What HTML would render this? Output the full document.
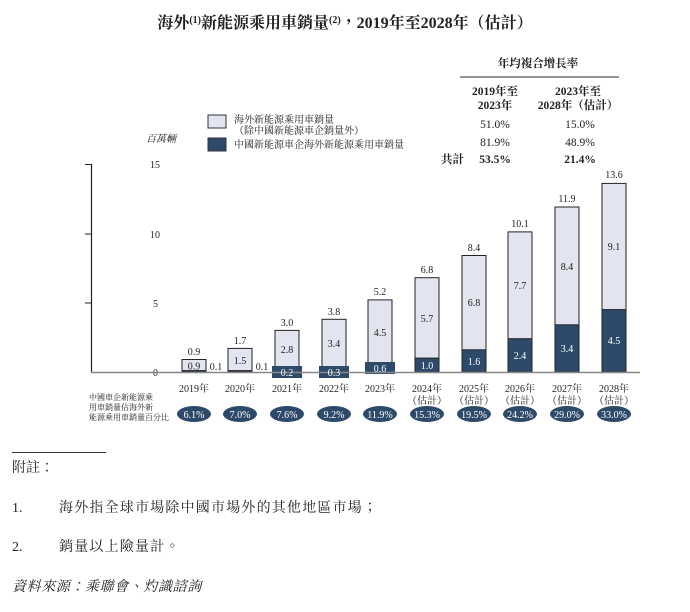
<!DOCTYPE html>
<html><head><meta charset="utf-8"><style>
body{margin:0;background:#fff;}
svg text{font-family:"Liberation Serif","Noto Serif CJK TC","Noto Serif CJK SC",serif;fill:#222;}
svg text.w{fill:#fff;}
</style></head><body>
<svg width="690" height="607" viewBox="0 0 690 607" xmlns="http://www.w3.org/2000/svg">
<text x="345" y="28" text-anchor="middle" font-size="16" font-weight="bold">海外<tspan font-size="10" dy="-5">(1)</tspan><tspan dy="5">新能源乘用車銷量</tspan><tspan font-size="10" dy="-5">(2)</tspan><tspan dy="5">，2019年至2028年（估計）</tspan></text>
<text x="538" y="67" text-anchor="middle" font-size="11.5" font-weight="bold">年均複合增長率</text>
<line x1="460" y1="77" x2="619" y2="77" stroke="#555" stroke-width="1.2"/>
<text x="495" y="95" text-anchor="middle" font-size="11.5" font-weight="bold">2019年至</text>
<text x="495" y="109" text-anchor="middle" font-size="11.5" font-weight="bold">2023年</text>
<text x="578" y="95" text-anchor="middle" font-size="11.5" font-weight="bold">2023年至</text>
<text x="578" y="109" text-anchor="middle" font-size="11.5" font-weight="bold">2028年（估計）</text>
<text x="495" y="128" text-anchor="middle" font-size="11.5">51.0%</text>
<text x="580" y="128" text-anchor="middle" font-size="11.5">15.0%</text>
<text x="495" y="146" text-anchor="middle" font-size="11.5">81.9%</text>
<text x="580" y="146" text-anchor="middle" font-size="11.5">48.9%</text>
<text x="441" y="163" font-size="11.5" font-weight="bold">共計</text>
<text x="495" y="163" text-anchor="middle" font-size="11.5" font-weight="bold">53.5%</text>
<text x="580" y="163" text-anchor="middle" font-size="11.5" font-weight="bold">21.4%</text>
<rect x="208" y="115" width="18" height="13" fill="#e2e5ef" stroke="#333" stroke-width="1"/>
<rect x="208" y="138" width="18" height="13" fill="#2e4a6b" stroke="#333" stroke-width="1"/>
<text x="234" y="123" font-size="10">海外新能源乘用車銷量</text>
<text x="234" y="134" font-size="10">（除中國新能源車企銷量外）</text>
<text x="234" y="148" font-size="10">中國新能源車企海外新能源乘用車銷量</text>
<text x="146" y="142" font-size="10" font-style="italic">百萬輛</text>
<g font-size="10">
<text x="150" y="168">15</text><text x="150" y="238">10</text><text x="153" y="307">5</text><text x="153" y="376">0</text>
</g>
<line x1="91.5" y1="164" x2="91.5" y2="372" stroke="#222" stroke-width="1.2"/>
<line x1="85" y1="164.5" x2="91.5" y2="164.5" stroke="#222"/>
<line x1="85" y1="234" x2="91.5" y2="234" stroke="#222"/>
<line x1="85" y1="303" x2="91.5" y2="303" stroke="#222"/>
<g stroke="#222" stroke-width="1">
<rect x="182" y="359.5" width="24" height="12.5" fill="#e2e5ef"/>
<rect x="228" y="348.4" width="24" height="23.6" fill="#e2e5ef"/>
<rect x="275" y="330.4" width="24" height="41.6" fill="#e2e5ef"/>
<rect x="322" y="319.3" width="24" height="52.7" fill="#e2e5ef"/>
<rect x="368" y="299.9" width="24" height="72.1" fill="#e2e5ef"/>
<rect x="415" y="277.7" width="24" height="94.3" fill="#e2e5ef"/>
<rect x="462" y="255.5" width="24" height="116.5" fill="#e2e5ef"/>
<rect x="508" y="231.9" width="24" height="140.1" fill="#e2e5ef"/>
<rect x="555" y="207" width="24" height="165" fill="#e2e5ef"/>
<rect x="602" y="183.4" width="24" height="188.6" fill="#e2e5ef"/>
</g>
<g fill="#2e4a6b" stroke="#222" stroke-width="1">
<rect x="182" y="370.6" width="24" height="1.4"/>
<rect x="228" y="370.6" width="24" height="1.4"/>
<rect x="275" y="369.2" width="24" height="2.8"/>
<rect x="322" y="367.8" width="24" height="4.2"/>
<rect x="368" y="363.7" width="24" height="8.3"/>
<rect x="415" y="358.1" width="24" height="13.9"/>
<rect x="462" y="349.8" width="24" height="22.2"/>
<rect x="508" y="338.7" width="24" height="33.3"/>
<rect x="555" y="324.8" width="24" height="47.2"/>
<rect x="602" y="309.6" width="24" height="62.4"/>
</g>
<rect x="272" y="366" width="30" height="12" fill="#2e4a6b"/>
<rect x="319" y="366" width="30" height="12" fill="#2e4a6b"/>
<rect x="365" y="362" width="30" height="12" fill="#2e4a6b"/>
<line x1="91" y1="372.5" x2="640" y2="372.5" stroke="#888" stroke-width="1.5"/>
<g font-size="10" text-anchor="middle">
<text x="194" y="355">0.9</text><text x="240" y="344">1.7</text><text x="287" y="326">3.0</text><text x="334" y="315">3.8</text><text x="380" y="295">5.2</text><text x="427" y="273">6.8</text><text x="474" y="251">8.4</text><text x="520" y="227">10.1</text><text x="567" y="202">11.9</text><text x="614" y="178">13.6</text>
<text x="194" y="369.5">0.9</text><text x="216" y="370">0.1</text>
<text x="240" y="364">1.5</text><text x="262" y="370">0.1</text>
<text x="287" y="353">2.8</text><text x="334" y="347">3.4</text><text x="380" y="336">4.5</text><text x="427" y="322">5.7</text><text x="474" y="306">6.8</text><text x="520" y="289">7.7</text><text x="567" y="270">8.4</text><text x="614" y="250">9.1</text>
</g>
<g font-size="10" text-anchor="middle">
<text class="w" x="287" y="376">0.2</text><text class="w" x="334" y="376">0.3</text><text class="w" x="380" y="372">0.6</text><text class="w" x="427" y="369">1.0</text><text class="w" x="474" y="365">1.6</text><text class="w" x="520" y="359">2.4</text><text class="w" x="567" y="352">3.4</text><text class="w" x="614" y="344">4.5</text>
</g>
<g font-size="10" text-anchor="middle">
<text x="194" y="392">2019年</text><text x="240" y="392">2020年</text><text x="287" y="392">2021年</text><text x="334" y="392">2022年</text><text x="380" y="392">2023年</text>
<text x="427" y="392">2024年</text><text x="474" y="392">2025年</text><text x="520" y="392">2026年</text><text x="567" y="392">2027年</text><text x="614" y="392">2028年</text>
<text x="427" y="404">（估計）</text><text x="474" y="404">（估計）</text><text x="520" y="404">（估計）</text><text x="567" y="404">（估計）</text><text x="614" y="404">（估計）</text>
</g>
<g font-size="8"><text x="89" y="400">中國車企新能源乘</text><text x="89" y="410">用車銷量佔海外新</text><text x="89" y="420">能源乘用車銷量百分比</text></g>
<g fill="#2e4a6b">
<ellipse cx="194" cy="414" rx="17" ry="8"/><ellipse cx="240" cy="414" rx="17" ry="8"/><ellipse cx="287" cy="414" rx="17" ry="8"/><ellipse cx="334" cy="414" rx="17" ry="8"/><ellipse cx="380" cy="414" rx="17" ry="8"/><ellipse cx="427" cy="414" rx="17" ry="8"/><ellipse cx="474" cy="414" rx="17" ry="8"/><ellipse cx="520" cy="414" rx="17" ry="8"/><ellipse cx="567" cy="414" rx="17" ry="8"/><ellipse cx="614" cy="414" rx="17" ry="8"/>
</g>
<g font-size="10" text-anchor="middle">
<text class="w" x="194" y="418">6.1%</text><text class="w" x="240" y="418">7.0%</text><text class="w" x="287" y="418">7.6%</text><text class="w" x="334" y="418">9.2%</text><text class="w" x="380" y="418">11.9%</text><text class="w" x="427" y="418">15.3%</text><text class="w" x="474" y="418">19.5%</text><text class="w" x="520" y="418">24.2%</text><text class="w" x="567" y="418">29.0%</text><text class="w" x="614" y="418">33.0%</text>
</g>
<line x1="12" y1="452.5" x2="106" y2="452.5" stroke="#333" stroke-width="1"/>
<text x="12" y="472" font-size="14">附註：</text>
<text x="12" y="512" font-size="14">1.</text>
<text x="59" y="512" font-size="14" letter-spacing="1.2">海外指全球市場除中國市場外的其他地區市場；</text>
<text x="12" y="551" font-size="14">2.</text>
<text x="59" y="551" font-size="14" letter-spacing="1.2">銷量以上險量計。</text>
<text x="12" y="591" font-size="14" font-style="italic" letter-spacing="0.6">資料來源：乘聯會、灼識諮詢</text>
</svg>
</body></html>
